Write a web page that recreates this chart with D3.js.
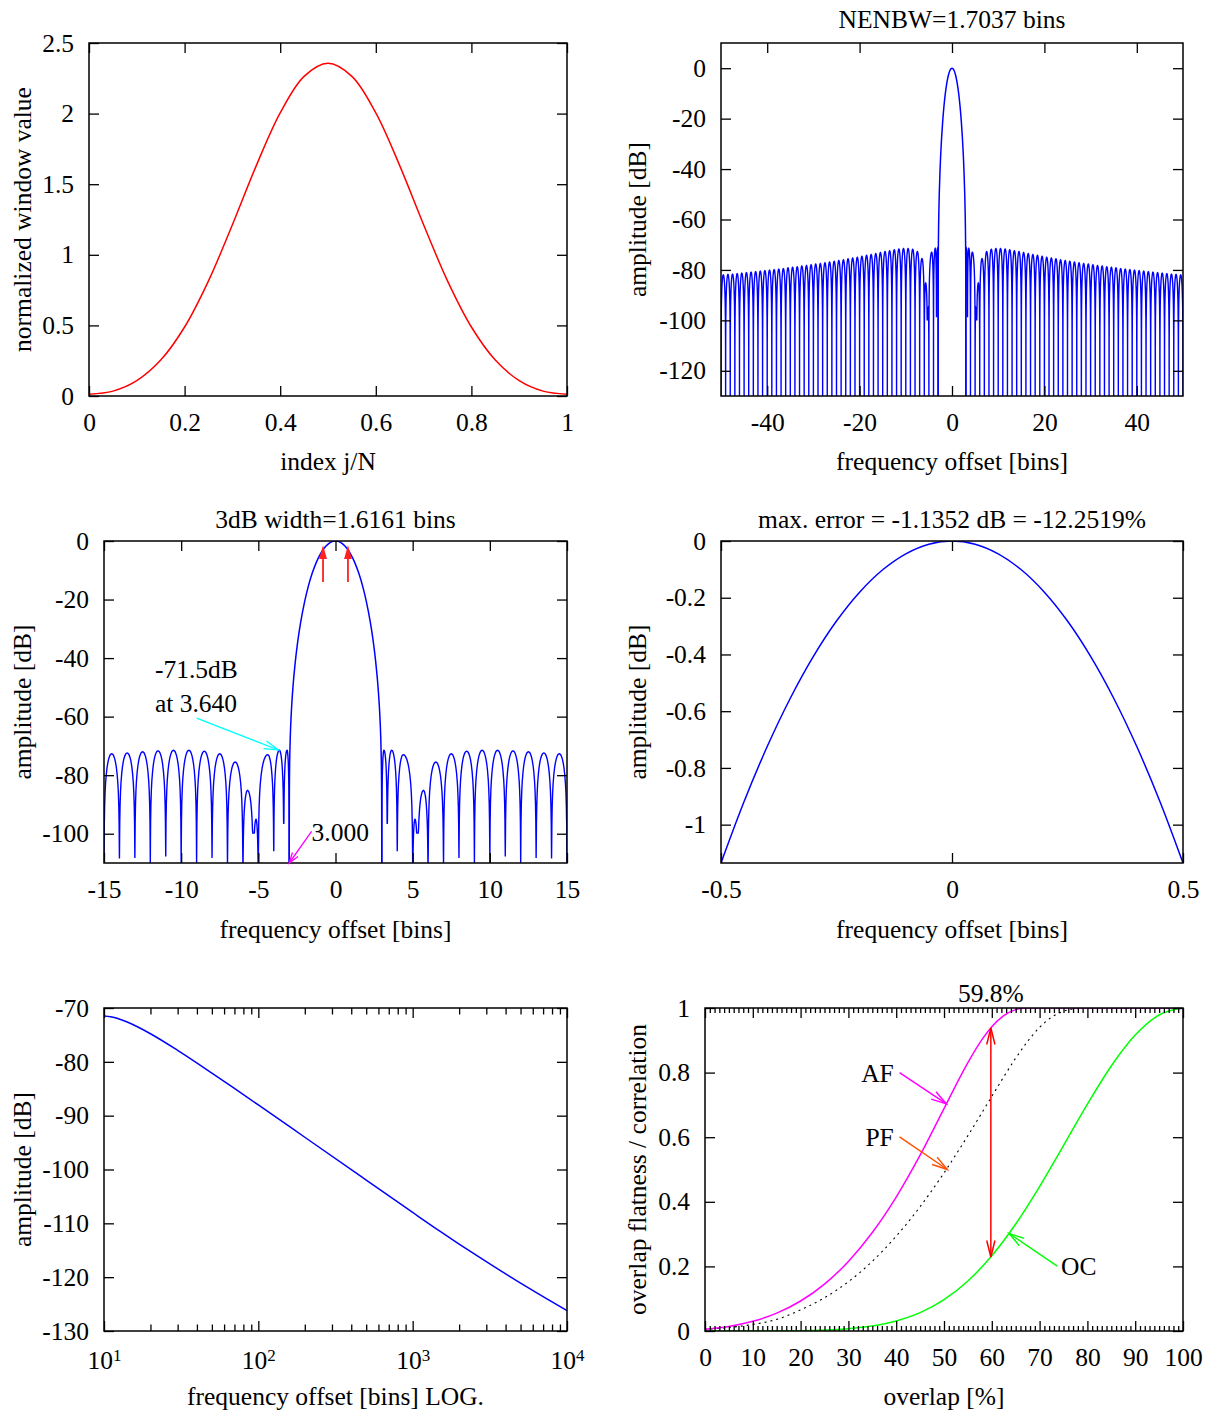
<!DOCTYPE html>
<html><head><meta charset="utf-8">
<script src="https://cdn.jsdelivr.net/npm/d3@7/dist/d3.min.js"></script>
<style>
html,body{margin:0;padding:0;background:#fff;}
svg text{font-family:"Liberation Serif","Times New Roman",Times,serif;font-size:25.5px;fill:#000;}
</style></head><body>
<svg id="chart" width="1210" height="1411" xmlns="http://www.w3.org/2000/svg"></svg>
<script>
// ================= DATA =================
// Panel 1: normalized window shape
const windowPos   = [0,0.05,0.1,0.15,0.2,0.25,0.3,0.35,0.4,0.45,0.5,0.55,0.6,0.65,0.7,0.75,0.8,0.85,0.9,0.95,1];
const windowValue = [0.0125,0.0347,0.1089,0.2542,0.4886,0.8155,1.2129,1.6318,2.0051,2.2638,2.3564,2.2638,2.0051,1.6318,1.2129,0.8155,0.4886,0.2542,0.1089,0.0347,0.0125];

// Main lobe (positive side, mirrored), dB
const mainlobeFreq = [0,0.1,0.25,0.5,0.75,1,1.25,1.5,1.75,2,2.25,2.4,2.5,2.6,2.75,2.85,2.9,2.95,2.98,2.99,3];
const mainlobeDb   = [0,-0.045,-0.282,-1.135,-2.578,-4.643,-7.383,-10.88,-15.255,-20.703,-27.563,-32.61,-36.52,-41.02,-49.47,-57.28,-62.67,-70.7,-79.95,-86.4,-Infinity];

// Side lobes (positive side, mirrored): null positions, lobe peak levels
const sidelobeNulls = [3,3.352,4,5,5.329,6,7,8,9,10,11,12,13,14,15,16,17,18,19,20,21,22,23,24,25,26,27,28,29,30,31,32,33,34,35,36,37,38,39,40,41,42,43,44,45,46,47,48,49,50];
const sidelobePeakDb = [-71.5,-71.5,-73.0,-95.1,-85.2,-75.5,-72.7,-71.8,-71.5,-71.5,-71.7,-72.0,-72.4,-72.7,-73.1,-73.5,-73.9,-74.2,-74.6,-75.0,-75.3,-75.6,-76.0,-76.3,-76.6,-76.9,-77.2,-77.5,-77.7,-78.0,-78.3,-78.5,-78.8,-79.0,-79.2,-79.5,-79.7,-79.9,-80.1,-80.3,-80.5,-80.7,-80.9,-81.1,-81.3,-81.5,-81.7,-81.8,-82.0];
const sidelobePeakFreq = [3.14,3.64,4.39,5.15,5.70];
// depth at which each drawn null bottoms out (-Infinity = reaches the axis)
const nullDepthZoom = [-Infinity,-96.4,-106,-Infinity,-99.8,-Infinity,-Infinity,-108.3,-Infinity,-Infinity,-107.8,-Infinity,-108.3,-108.5,-Infinity];
const nullDepthWide = [-Infinity,-98.5,-Infinity,-Infinity,-99.8];

// Panel 4: scalloping error over one bin
const errorFreq = [0,0.05,0.1,0.15,0.2,0.25,0.3,0.35,0.4,0.45,0.5];
const errorDb   = [0,-0.0112,-0.0451,-0.1015,-0.1805,-0.2822,-0.4068,-0.5543,-0.7247,-0.9183,-1.1352];

// Panel 5: sidelobe envelope on log axis
const envelopeFreq = [10,11,12,15,20,30,50,70,100,200,500,1000,1500,2000,3000,5000,7000,10000];
const envelopeDb   = [-71.48,-71.62,-71.87,-72.93,-74.78,-77.86,-82.08,-84.95,-88.01,-94.01,-101.96,-107.98,-111.45,-113.84,-117.12,-121.10,-123.63,-126.23];

// Panel 6: overlap curves
const afOverlap = [0,5,10,15,20,25,30,35,40,45,50,55,58,60,62.5,65,66.7,100];
const afValue   = [0.0053,0.0140,0.0299,0.0553,0.0929,0.1453,0.2153,0.3049,0.4148,0.5444,0.6885,0.8310,0.9035,0.9420,0.9763,0.9950,1.0,1.0];
const pfOverlap = [0,5,10,15,20,25,30,35,40,45,50,55,60,62.5,65,67.5,70,72.5,75,77.5,80,100];
const pfValue   = [0.0052,0.011,0.0202,0.0360,0.0654,0.1030,0.1526,0.2158,0.2933,0.3848,0.4895,0.6048,0.7264,0.7869,0.8447,0.8968,0.9400,0.9714,0.9901,0.998,1.0,1.0];
const ocOverlap = [0,10,20,30,40,45,50,55,60,65,70,75,80,85,90,95,100];
const ocValue   = [0,0.00002,0.0010,0.0071,0.0310,0.0568,0.0969,0.1549,0.2330,0.3314,0.4472,0.5741,0.7024,0.8205,0.9161,0.9784,1.0];

// Tick values
const p1XTicks = [0,0.2,0.4,0.6,0.8,1];
const p1YTicks = [0,0.5,1,1.5,2,2.5];
const p2XTicks = [-40,-20,0,20,40];
const p2YTicks = [0,-20,-40,-60,-80,-100,-120];
const p3XTicks = [-15,-10,-5,0,5,10,15];
const p3YTicks = [0,-20,-40,-60,-80,-100];
const p4XTicks = [-0.5,0,0.5];
const p4YTicks = [0,-0.2,-0.4,-0.6,-0.8,-1];
const p5XTicks = [10,100,1000,10000];
const p5XMinor = [20,30,40,50,60,70,80,90,200,300,400,500,600,700,800,900,2000,3000,4000,5000,6000,7000,8000,9000];
const p5YTicks = [-70,-80,-90,-100,-110,-120,-130];
const p6XTicks = [0,10,20,30,40,50,60,70,80,90,100];
const p6YTicks = [0,0.2,0.4,0.6,0.8,1];

// Annotation values
const rovPercent = 59.8;
const threeDbHalfWidth = 0.808;

// lobe drawing profile (fraction of half-lobe, dB below lobe peak)
const lobeShape = [[0.01,-30.1],[0.02,-24.0],[0.04,-18.1],[0.07,-13.3],[0.1,-10.2],[0.15,-6.9],[0.2,-4.6],[0.25,-3.0],[0.3,-1.8],[0.35,-1.0],[0.4,-0.4],[0.45,-0.1],[0.5,0]];

// ================= DRAWING =================
const svg = d3.select('#chart');
const defs = svg.append('defs');
let clipCount = 0;
const fmt = d => String(d);

function axisStyle(s){
  s.select('.domain').remove();
  s.selectAll('line').attr('stroke','#000').attr('stroke-width',1.3);
  s.attr('font-size',null).attr('font-family',null);
}

function panel(f, xScale, yScale, xTicks, yTicks, opts = {}) {
  const xs = xScale.range([f.x0, f.x1]);
  const ys = yScale.range([f.y1, f.y0]);
  const g = svg.append('g');
  const id = 'clip' + (clipCount++);
  defs.append('clipPath').attr('id', id).append('rect')
    .attr('x', f.x0).attr('y', f.y0).attr('width', f.x1 - f.x0).attr('height', f.y1 - f.y0);
  const plot = g.append('g').attr('clip-path', `url(#${id})`);
  const axes = g.append('g');
  const xf = opts.xFmt || fmt;
  axes.append('g').attr('class','xb').attr('transform', `translate(0,${f.y1})`)
    .call(d3.axisBottom(xs).tickValues(xTicks).tickFormat(xf).tickSize(-10).tickSizeOuter(0).tickPadding(opts.xPad || 17)).call(axisStyle);
  axes.append('g').attr('transform', `translate(0,${f.y0})`)
    .call(d3.axisTop(xs).tickValues(xTicks).tickFormat('').tickSize(-10).tickSizeOuter(0)).call(axisStyle);
  axes.append('g').attr('transform', `translate(${f.x0},0)`)
    .call(d3.axisLeft(ys).tickValues(yTicks).tickFormat(fmt).tickSize(-10).tickSizeOuter(0).tickPadding(15)).call(axisStyle);
  axes.append('g').attr('transform', `translate(${f.x1},0)`)
    .call(d3.axisRight(ys).tickValues(yTicks).tickFormat('').tickSize(-10).tickSizeOuter(0)).call(axisStyle);
  if (opts.xMinor) {
    axes.append('g').attr('transform', `translate(0,${f.y1})`)
      .call(d3.axisBottom(xs).tickValues(opts.xMinor).tickFormat('').tickSize(-opts.minorLen).tickSizeOuter(0)).call(axisStyle);
    axes.append('g').attr('transform', `translate(0,${f.y0})`)
      .call(d3.axisTop(xs).tickValues(opts.xMinor).tickFormat('').tickSize(-opts.minorLen).tickSizeOuter(0)).call(axisStyle);
  }
  g.append('rect').attr('x', f.x0).attr('y', f.y0).attr('width', f.x1 - f.x0).attr('height', f.y1 - f.y0)
    .attr('fill', 'none').attr('stroke', '#000').attr('stroke-width', 1.5);
  return { g, plot, axes, xs, ys, f };
}

function text(g, x, y, str, anchor = 'middle') {
  return g.append('text').attr('x', x).attr('y', y).attr('dy', '0.35em').attr('text-anchor', anchor).text(str);
}
function yLabel(g, x, y, str) {
  g.append('text').attr('transform', `translate(${x},${y}) rotate(-90)`).attr('dy', '0.35em')
    .attr('text-anchor', 'middle').text(str);
}
function arrow(g, x1, y1, x2, y2, color, o = {}) {
  const len = o.len || 15, ang = (o.ang || 15) * Math.PI / 180, w = o.w || 1.5;
  g.append('line').attr('x1', x1).attr('y1', y1).attr('x2', x2).attr('y2', y2)
    .attr('stroke', color).attr('stroke-width', w);
  const head = (tx, ty, fx, fy) => {
    const a = Math.atan2(fy - ty, fx - tx);
    const p1 = [tx + len * Math.cos(a + ang), ty + len * Math.sin(a + ang)];
    const p2 = [tx + len * Math.cos(a - ang), ty + len * Math.sin(a - ang)];
    g.append('path').attr('d', `M${p1[0]},${p1[1]}L${tx},${ty}L${p2[0]},${p2[1]}` + (o.filled ? 'Z' : ''))
      .attr('fill', o.filled ? color : 'none').attr('stroke', color).attr('stroke-width', w);
  };
  head(x2, y2, x1, y1);
  if (o.both) head(x1, y1, x2, y2);
}

// --- spectrum helpers ---
function mirror(freqs, vals) {
  const pts = [];
  for (let i = freqs.length - 1; i > 0; i--) pts.push([-freqs[i], vals[i]]);
  for (let i = 0; i < freqs.length; i++) pts.push([freqs[i], vals[i]]);
  return pts;
}
function sidePoints(depths, fLimit) {
  const pts = [];
  for (let i = 0; i < sidelobePeakDb.length; i++) {
    const a = sidelobeNulls[i], b = sidelobeNulls[i + 1];
    if (b > fLimit + 1e-9) break;
    const pk = sidelobePeakDb[i];
    const pf = i < sidelobePeakFreq.length ? sidelobePeakFreq[i] : (a + b) / 2;
    const da = depths[i] !== undefined ? depths[i] : -Infinity;
    const db = depths[i + 1] !== undefined ? depths[i + 1] : -Infinity;
    if (i === 0) pts.push([a, da]);
    for (let j = 0; j < lobeShape.length; j++) {
      const [t, rel] = lobeShape[j];
      pts.push([a + (pf - a) * t / 0.5, Math.max(pk + rel, da)]);
    }
    for (let j = lobeShape.length - 2; j >= 0; j--) {
      const [t, rel] = lobeShape[j];
      pts.push([b - (b - pf) * t / 0.5, Math.max(pk + rel, db)]);
    }
    pts.push([b, db]);
  }
  return pts;
}
function drawSpectrum(P, depths, fLimit, dMin) {
  const line = d3.line().x(d => P.xs(d[0])).y(d => P.ys(Math.max(d[1], dMin)));
  const right = sidePoints(depths, fLimit);
  const left = right.map(d => [-d[0], d[1]]).reverse();
  P.plot.append('path').attr('d', line(left)).attr('fill', 'none').attr('stroke', '#0000ff').attr('stroke-width', 1.4);
  P.plot.append('path').attr('d', line(right)).attr('fill', 'none').attr('stroke', '#0000ff').attr('stroke-width', 1.4);
  const main = mirror(mainlobeFreq, mainlobeDb);
  P.plot.append('path').attr('d', line.curve(d3.curveMonotoneX)(main)).attr('fill', 'none')
    .attr('stroke', '#0000ff').attr('stroke-width', 1.5);
}

// ---------------- Panel 1 ----------------
{
  const P = panel({ x0: 89, x1: 567, y0: 43, y1: 396 }, d3.scaleLinear().domain([0, 1]), d3.scaleLinear().domain([0, 2.5]), p1XTicks, p1YTicks);
  const line = d3.line().x((d, i) => P.xs(windowPos[i])).y(d => P.ys(d)).curve(d3.curveCatmullRom);
  P.plot.append('path').attr('d', line(windowValue)).attr('fill', 'none').attr('stroke', '#ff0000').attr('stroke-width', 1.5);
  yLabel(P.g, 22, 219.5, 'normalized window value');
  text(P.g, 328, 461, 'index j/N');
}

// ---------------- Panel 2 ----------------
{
  const P = panel({ x0: 721, x1: 1183, y0: 43, y1: 396 }, d3.scaleLinear().domain([-50, 50]), d3.scaleLinear().domain([-130, 10]), p2XTicks, p2YTicks);
  drawSpectrum(P, nullDepthWide, 50, -130);
  yLabel(P.g, 637, 219.5, 'amplitude [dB]');
  text(P.g, 952, 461, 'frequency offset [bins]');
  text(P.g, 952, 19, 'NENBW=1.7037 bins');
}

// ---------------- Panel 3 ----------------
{
  const P = panel({ x0: 104, x1: 567, y0: 541, y1: 863 }, d3.scaleLinear().domain([-15, 15]), d3.scaleLinear().domain([-110, 0]), p3XTicks, p3YTicks);
  drawSpectrum(P, nullDepthZoom, 15, -110);
  yLabel(P.g, 22, 702, 'amplitude [dB]');
  text(P.g, 335.5, 929, 'frequency offset [bins]');
  text(P.g, 335.5, 519, '3dB width=1.6161 bins');
  const xs = P.xs, ys = P.ys;
  arrow(P.g, xs(-threeDbHalfWidth), ys(-14), xs(-threeDbHalfWidth), ys(-2.6), '#ff2020', { len: 10, ang: 16, w: 1.8, filled: true });
  arrow(P.g, xs(threeDbHalfWidth), ys(-14), xs(threeDbHalfWidth), ys(-2.6), '#ff2020', { len: 10, ang: 16, w: 1.8, filled: true });
  text(P.g, xs(-11.7), ys(-43.7), '-71.5dB', 'start');
  text(P.g, xs(-11.7), ys(-55.3), 'at 3.640', 'start');
  arrow(P.g, xs(-9.0), ys(-60.5), xs(-3.70), ys(-71.4), '#00ffff', { len: 15, ang: 16, w: 1.3 });
  text(P.g, xs(-1.55), ys(-99.3), '3.000', 'start');
  arrow(P.g, xs(-1.55), ys(-99.2), xs(-3.0), ys(-110), '#ff00ff', { len: 11, ang: 18, w: 1.3 });
}

// ---------------- Panel 4 ----------------
{
  const P = panel({ x0: 721, x1: 1183, y0: 541, y1: 863 }, d3.scaleLinear().domain([-0.5, 0.5]), d3.scaleLinear().domain([-1.1352, 0]), p4XTicks, p4YTicks);
  const pts = mirror(errorFreq, errorDb);
  const line = d3.line().x(d => P.xs(d[0])).y(d => P.ys(d[1])).curve(d3.curveCatmullRom);
  P.plot.append('path').attr('d', line(pts)).attr('fill', 'none').attr('stroke', '#0000ff').attr('stroke-width', 1.5);
  yLabel(P.g, 637, 702, 'amplitude [dB]');
  text(P.g, 952, 929, 'frequency offset [bins]');
  text(P.g, 952, 519, 'max. error = -1.1352 dB = -12.2519%');
}

// ---------------- Panel 5 ----------------
{
  const P = panel({ x0: 104, x1: 567, y0: 1008, y1: 1331 }, d3.scaleLog().domain([10, 10000]), d3.scaleLinear().domain([-130, -70]), p5XTicks, p5YTicks,
    { xFmt: d => '10', xPad: 20, xMinor: p5XMinor, minorLen: 6.5 });
  P.axes.select('.xb').selectAll('text').each(function (d) {
    d3.select(this).append('tspan').attr('dy', '-0.45em').style('font-size', '17px').text(Math.round(Math.log10(d)));
  });
  const line = d3.line().x((d, i) => P.xs(envelopeFreq[i])).y(d => P.ys(d)).curve(d3.curveMonotoneX);
  P.plot.append('path').attr('d', line(envelopeDb)).attr('fill', 'none').attr('stroke', '#0000ff').attr('stroke-width', 1.5);
  yLabel(P.g, 22, 1169.5, 'amplitude [dB]');
  text(P.g, 335.5, 1396, 'frequency offset [bins] LOG.');
}

// ---------------- Panel 6 ----------------
{
  const minor = d3.range(0, 101).filter(v => v % 10 !== 0);
  const P = panel({ x0: 705, x1: 1183, y0: 1008, y1: 1331 }, d3.scaleLinear().domain([0, 100]), d3.scaleLinear().domain([0, 1]), p6XTicks, p6YTicks,
    { xMinor: minor, minorLen: 5 });
  const mk = xsArr => d3.line().x((d, i) => P.xs(xsArr[i])).y(d => P.ys(d)).curve(d3.curveMonotoneX);
  P.plot.append('path').attr('d', mk(pfOverlap)(pfValue)).attr('fill', 'none').attr('stroke', '#000').attr('stroke-width', 1.1).attr('stroke-dasharray', '2,4');
  P.plot.append('path').attr('d', mk(afOverlap)(afValue)).attr('fill', 'none').attr('stroke', '#ff00ff').attr('stroke-width', 1.5);
  P.plot.append('path').attr('d', mk(ocOverlap)(ocValue)).attr('fill', 'none').attr('stroke', '#00ff00').attr('stroke-width', 1.5);
  const xs = P.xs, ys = P.ys;
  arrow(P.g, xs(rovPercent), ys(0.938), xs(rovPercent), ys(0.229), '#ff0000', { len: 17, ang: 14, w: 1.5, both: true });
  text(P.g, xs(39.5), ys(0.80), 'AF', 'end');
  arrow(P.g, xs(40.7), ys(0.80), xs(50.5), ys(0.703), '#ff00ff', { len: 16, ang: 16, w: 1.4 });
  text(P.g, xs(39.5), ys(0.60), 'PF', 'end');
  arrow(P.g, xs(40.7), ys(0.601), xs(50.7), ys(0.50), '#ff5000', { len: 16, ang: 16, w: 1.4 });
  text(P.g, xs(74.5), ys(0.20), 'OC', 'start');
  arrow(P.g, xs(73.7), ys(0.201), xs(63.6), ys(0.302), '#00ff00', { len: 16, ang: 16, w: 1.4 });
  text(P.g, xs(rovPercent), 993, rovPercent + '%');
  yLabel(P.g, 637, 1169.5, 'overlap flatness / correlation');
  text(P.g, 944, 1396, 'overlap [%]');
}
</script></body></html>
